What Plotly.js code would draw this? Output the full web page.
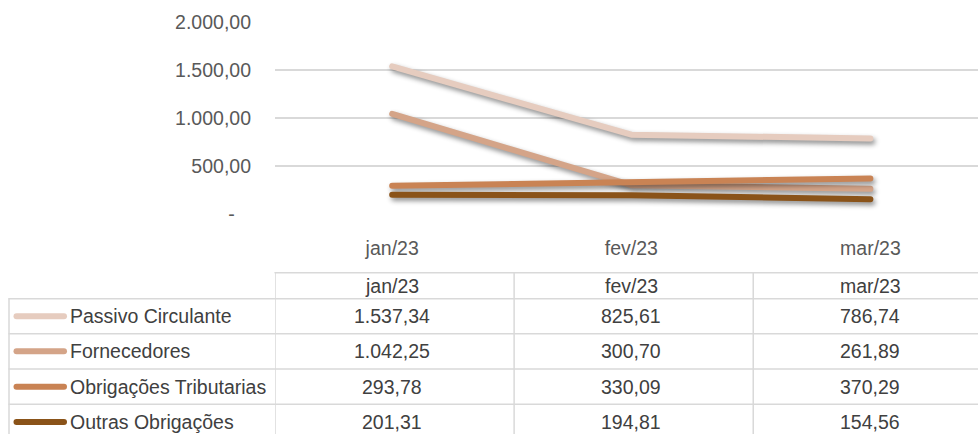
<!DOCTYPE html>
<html>
<head>
<meta charset="utf-8">
<script src="https://cdn.plot.ly/plotly-3.0.1.min.js"></script>
<style>
html, body { margin: 0; padding: 0; background: #ffffff; overflow: hidden; }
#chart { width: 978px; height: 434px; }
</style>
</head>
<body>
<div id="chart"></div>
<script>
// ---- data ----
const categories = ['jan/23', 'fev/23', 'mar/23'];
const seriesNames = ['Passivo Circulante', 'Fornecedores', 'Obrigações Tributarias', 'Outras Obrigações'];
const passivoCirculante = [1537.34, 825.61, 786.74];
const fornecedores = [1042.25, 300.70, 261.89];
const obrigacoesTributarias = [293.78, 330.09, 370.29];
const outrasObrigacoes = [201.31, 194.81, 154.56];
const yTickVals = [0, 500, 1000, 1500, 2000];
const yTickText = ['-\u00a0\u00a0\u00a0', '500,00', '1.000,00', '1.500,00', '2.000,00'];

// ---- styling ----
const seriesValues = [passivoCirculante, fornecedores, obrigacoesTributarias, outrasObrigacoes];
const colors = ['#E6CCBF', '#D4A488', '#C98354', '#8A5319'];
const FONT = 'Liberation Sans, Arial, sans-serif';
const FS = 19.5;

function fmt(v) {
  const parts = v.toFixed(2).split('.');
  parts[0] = parts[0].replace(/\B(?=(\d{3})+(?!\d))/g, '.');
  return parts[0] + ',' + parts[1];
}

// pixel -> paper helpers (plot area: x 275..978, y 22..214)
const PL = 275, PR = 978, PT = 22, PB = 214;
const px = X => (X - PL) / (PR - PL);
const py = Y => (PB - Y) / (PB - PT);

const traces = seriesNames.map((name, i) => ({
  type: 'scatter',
  mode: 'lines',
  name: name,
  x: categories,
  y: seriesValues[i],
  line: { color: colors[i], width: 6 },
  hoverinfo: 'skip'
}));

// table geometry
const rowLines = [298.7, 333.7, 369, 404.3, 439.5];
const headerTop = 272.7;
const gridColor = '#D9D9D9';
const shapes = [];
const annotations = [];

shapes.push({ type: 'line', xref: 'paper', yref: 'paper', x0: px(PL), x1: 1.05, y0: py(headerTop), y1: py(headerTop), line: { color: gridColor, width: 1.5 } });
rowLines.forEach(Y => {
  shapes.push({ type: 'line', xref: 'paper', yref: 'paper', x0: px(9), x1: 1.05, y0: py(Y), y1: py(Y), line: { color: gridColor, width: 1.5 } });
});
shapes.push({ type: 'line', xref: 'paper', yref: 'paper', x0: px(9), x1: px(9), y0: py(rowLines[0]), y1: py(440), line: { color: gridColor, width: 1.5 } });
categories.forEach((c, i) => {
  shapes.push({ type: 'line', xref: 'x', yref: 'paper', x0: i - 0.49, x1: i - 0.49, y0: py(headerTop), y1: py(440), line: { color: gridColor, width: 1.5 } });
});

categories.forEach(c => {
  annotations.push({ xref: 'x', yref: 'paper', x: c, y: py((headerTop + rowLines[0]) / 2), text: c, showarrow: false, xanchor: 'center', yanchor: 'middle', font: { family: FONT, size: FS, color: '#404040' } });
});
seriesNames.forEach((name, r) => {
  const yc = py((rowLines[r] + rowLines[r + 1]) / 2);
  shapes.push({ type: 'line', xref: 'paper', yref: 'paper', x0: px(16.5), x1: px(64), y0: yc, y1: yc, line: { color: colors[r], width: 6 } });
  annotations.push({ xref: 'paper', yref: 'paper', x: px(68), y: yc, text: name, showarrow: false, xanchor: 'left', yanchor: 'middle', font: { family: FONT, size: FS, color: '#404040' } });
  seriesValues[r].forEach((v, i) => {
    annotations.push({ xref: 'x', yref: 'paper', x: categories[i], y: yc, text: fmt(v), showarrow: false, xanchor: 'center', yanchor: 'middle', font: { family: FONT, size: FS, color: '#404040' } });
  });
});

const layout = {
  width: 978,
  height: 434,
  margin: { l: PL, r: 0, t: PT, b: 434 - PB, pad: 0 },
  paper_bgcolor: '#ffffff',
  plot_bgcolor: '#ffffff',
  showlegend: false,
  font: { family: FONT, size: FS, color: '#595959' },
  xaxis: {
    type: 'category',
    range: [-0.49, 2.45],
    showgrid: false,
    zeroline: false,
    showline: false,
    ticks: '',
    ticklabelstandoff: 20,
    tickfont: { family: FONT, size: FS, color: '#595959' },
    fixedrange: true
  },
  yaxis: {
    range: [0, 2000],
    tickvals: yTickVals,
    ticktext: yTickText,
    showgrid: true,
    gridcolor: gridColor,
    gridwidth: 1.5,
    zeroline: false,
    showline: false,
    ticks: '',
    ticklabelstandoff: 23,
    tickfont: { family: FONT, size: FS, color: '#595959' },
    fixedrange: true
  },
  shapes: shapes,
  annotations: annotations
};

Plotly.newPlot('chart', traces, layout, { staticPlot: true, displayModeBar: false }).then(() => {
  document.querySelectorAll('.scatterlayer .js-line').forEach(p => {
    p.style.strokeLinecap = 'round';
    p.style.strokeLinejoin = 'round';
    p.style.filter = 'drop-shadow(2px 3px 2.5px rgba(0,0,0,0.45))';
  });
  document.querySelectorAll('.shapelayer path').forEach(p => {
    p.style.strokeLinecap = 'round';
  });
});
</script>
</body>
</html>
